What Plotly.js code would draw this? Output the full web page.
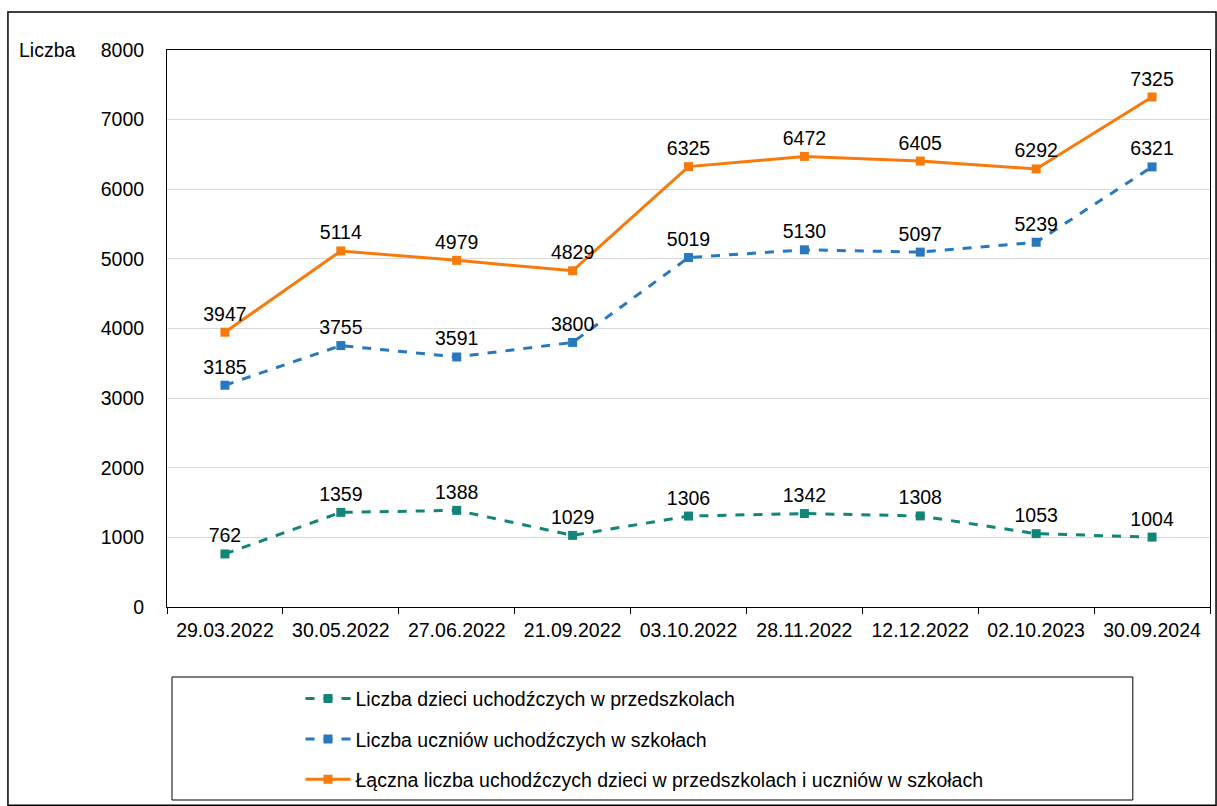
<!DOCTYPE html>
<html><head><meta charset="utf-8">
<script src="https://cdn.plot.ly/plotly-3.0.1.min.js"></script>
<style>html,body{margin:0;padding:0;background:#fff}</style>
</head><body>
<div id="chart" style="width:1217px;height:806px"></div>
<script>
const dates = ["29.03.2022","30.05.2022","27.06.2022","21.09.2022","03.10.2022","28.11.2022","12.12.2022","02.10.2023","30.09.2024"];
const preschool = [762,1359,1388,1029,1306,1342,1308,1053,1004];
const schools = [3185,3755,3591,3800,5019,5130,5097,5239,6321];
const total = [3947,5114,4979,4829,6325,6472,6405,6292,7325];
const names = ["Liczba dzieci uchodźczych w przedszkolach","Liczba uczniów uchodźczych w szkołach","Łączna liczba uchodźczych dzieci w przedszkolach i uczniów w szkołach"];
const colors = ["#138478","#2878BE","#F97A0C"];
const series = [preschool, schools, total];
const FONT = "Liberation Sans, Arial, sans-serif";
const FS = 19.5;
const traces = series.map((s,i)=>({
  x: dates, y: s, name: names[i], legendgroup: "g"+i,
  type: "scatter", mode: "lines+markers+text",
  text: s.map(String), textposition: "top center",
  textfont: {family: FONT, size: FS, color: "#000"},
  line: {color: colors[i], width: 3, dash: i<2 ? "dash" : "solid"},
  marker: {symbol: "square", size: 9, color: colors[i]},
  cliponaxis: false
}));
const layout = {
  width: 1217, height: 806,
  margin: {l:167, r:7, t:50, b:199, autoexpand: false},
  paper_bgcolor: "#fff", plot_bgcolor: "#fff",
  font: {family: FONT, size: FS, color: "#000"},
  showlegend: true,
  legend: {x: 0.128, y: -0.13, xanchor: "left", yanchor: "top", itemwidth: 45,
    traceorder: "grouped", tracegroupgap: 12, bgcolor: "rgba(0,0,0,0)",
    font: {family: FONT, size: FS, color: "#000"}},
  xaxis: {type: "category", range: [-0.5, 8.5], showline: true, linecolor: "#000", linewidth: 1,
    mirror: true, ticks: "outside", tickson: "boundaries", ticklen: 6, tickcolor: "#000",
    ticklabelstandoff: 6, automargin: false,
    showgrid: false, tickfont: {family: FONT, size: FS, color: "#000"}},
  yaxis: {range: [0, 8000], dtick: 1000, showline: true, linecolor: "#000", linewidth: 1,
    mirror: true, ticks: "", showgrid: true, gridcolor: "#d9d9d9", zeroline: false,
    tickformat: "d", ticklabelstandoff: 18, automargin: false,
    tickfont: {family: FONT, size: FS, color: "#000"}},
  annotations: [{text: "Liczba", xref: "paper", yref: "paper", x: -0.0853, y: 1.0, xanchor: "right", yanchor: "middle",
    showarrow: false, font: {family: FONT, size: FS, color: "#000"}}],
  shapes: [
    {type: "rect", xref: "paper", yref: "paper", x0: -0.1525, x1: 1.0058, y0: -0.356, y1: 1.068,
     line: {color: "#000", width: 1.5}, fillcolor: "rgba(0,0,0,0)"},
    {type: "rect", xref: "paper", yref: "paper", x0: 0.0048, x1: 0.926, y0: -0.3465, y1: -0.1257,
     line: {color: "#000", width: 1}, fillcolor: "rgba(0,0,0,0)"}
  ]
};
Plotly.newPlot("chart", traces, layout, {displayModeBar: false, staticPlot: true});
</script>
</body></html>
